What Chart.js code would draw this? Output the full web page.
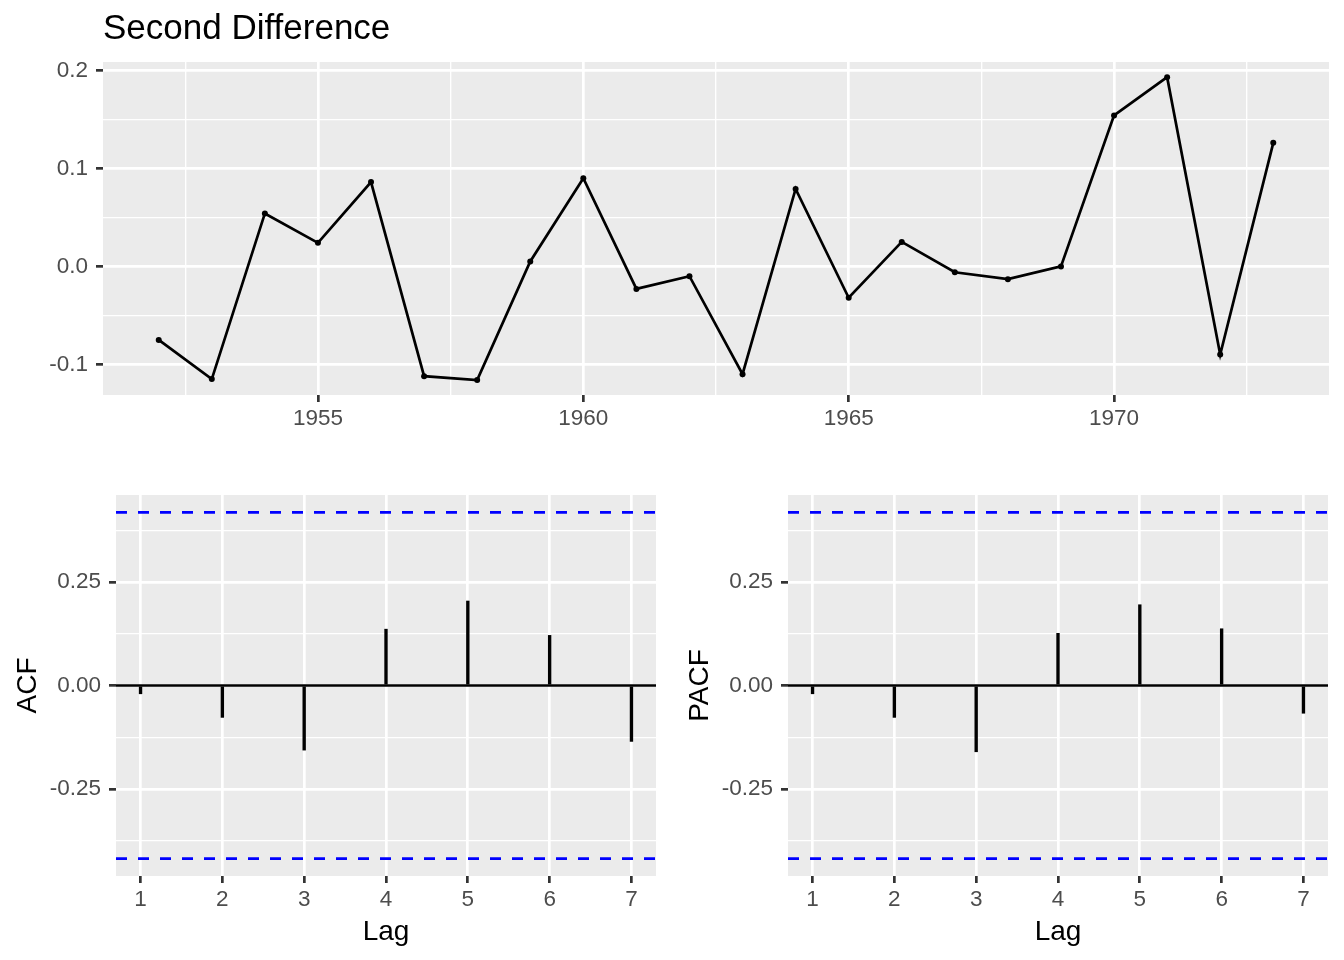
<!DOCTYPE html>
<html>
<head>
<meta charset="utf-8">
<title>Second Difference</title>
<script src="https://cdn.jsdelivr.net/npm/chart.js@4.4.1/dist/chart.umd.min.js"></script>
<style>
    html, body { margin: 0; padding: 0; background: #ffffff; }
    #wrap { position: relative; width: 1344px; height: 960px; }
    canvas { position: absolute; }
</style>
</head>
<body>
<div id="wrap">
    <canvas id="diffChart" width="1344" height="450" style="left:0;top:0"></canvas>
    <canvas id="acfChart" width="672" height="510" style="left:0;top:450px"></canvas>
    <canvas id="pacfChart" width="672" height="510" style="left:672px;top:450px"></canvas>
</div>
<script>
// 데이터
const years = [1952, 1953, 1954, 1955, 1956, 1957, 1958, 1959, 1960, 1961, 1962,
    1963, 1964, 1965, 1966, 1967, 1968, 1969, 1970, 1971, 1972, 1973];
const secondDiff = [-0.075, -0.115, 0.054, 0.024, 0.086, -0.112, -0.116, 0.005, 0.090, -0.023, -0.010,
    -0.110, 0.079, -0.032, 0.025, -0.006, -0.013, 0.000, 0.154, 0.193, -0.090, 0.126];

const lags = [1, 2, 3, 4, 5, 6, 7];
const acfValues = [-0.020, -0.077, -0.156, 0.136, 0.204, 0.121, -0.135];
const pacfValues = [-0.020, -0.077, -0.160, 0.126, 0.195, 0.137, -0.067];
const ciBound = 0.418;

// 축 눈금
const yearTicks = [1955, 1960, 1965, 1970];
const yearMinorTicks = [1952.5, 1957.5, 1962.5, 1967.5, 1972.5];
const diffTicks = [-0.1, 0.0, 0.1, 0.2];
const diffMinorTicks = [-0.05, 0.05, 0.15];
const corrTicks = [-0.25, 0.00, 0.25];
const corrMinorTicks = [-0.375, -0.125, 0.125, 0.375];

// 축 범위
const yearRange = [1950.95, 1974.05];
const diffRange = [-0.1312, 0.2085];
const lagRange = [0.7, 7.3];
const corrRange = [-0.46, 0.46];

const PANEL_BG = '#EBEBEB';
const MAJOR_W = 2.7;
const MINOR_W = 1.35;

Chart.defaults.font.family = "'Liberation Sans', Arial, Helvetica, sans-serif";
Chart.defaults.animation = false;

// 회색 패널 배경
const panelBg = {
    id: 'panelBg',
    beforeDraw(chart) {
        const { ctx, chartArea: a } = chart;
        ctx.save();
        ctx.fillStyle = PANEL_BG;
        ctx.fillRect(a.left, a.top, a.right - a.left, a.bottom - a.top);
        ctx.restore();
    }
};

// 제목
const plotTitle = {
    id: 'plotTitle',
    afterDraw(chart, args, opts) {
        if (!opts.text) return;
        const ctx = chart.ctx;
        ctx.save();
        ctx.font = "35px 'Liberation Sans', Arial, sans-serif";
        ctx.fillStyle = '#000000';
        ctx.textBaseline = 'alphabetic';
        ctx.fillText(opts.text, chart.chartArea.left, 39);
        ctx.restore();
    }
};

// ggplot 스타일 축 (major + minor grid)
function ggAxis(major, minor, range, fmt, size, extra) {
    const isMajor = v => major.some(m => Math.abs(m - v) < 1e-9);
    return Object.assign({
        type: 'linear',
        min: range[0],
        max: range[1],
        offset: false,
        afterBuildTicks: scale => {
            scale.ticks = major.concat(minor).sort((a, b) => a - b).map(v => ({ value: v }));
        },
        afterFit: scale => {
            if (scale.isHorizontal()) scale.height = size;
            else scale.width = size;
        },
        grid: {
            offset: false,
            color: '#FFFFFF',
            lineWidth: c => isMajor(c.tick.value) ? MAJOR_W : MINOR_W,
            tickLength: 7,
            tickWidth: c => isMajor(c.tick.value) ? MAJOR_W : 0,
            tickColor: c => isMajor(c.tick.value) ? '#333333' : 'rgba(0,0,0,0)'
        },
        border: { display: false },
        ticks: {
            autoSkip: false,
            maxRotation: 0,
            minRotation: 0,
            color: '#4D4D4D',
            font: { size: 22.5 },
            padding: 3,
            callback: v => isMajor(v) ? fmt(v) : ''
        }
    }, extra || {});
}

function hLine(y, color, dash) {
    return {
        type: 'line',
        data: [{ x: lagRange[0], y: y }, { x: lagRange[1], y: y }],
        borderColor: color,
        borderWidth: MAJOR_W,
        borderDash: dash,
        pointRadius: 0,
        fill: false
    };
}

// 위쪽: 2차 차분 시계열
function createDiffChart() {
    const ctx = document.getElementById('diffChart').getContext('2d');
    new Chart(ctx, {
        type: 'line',
        data: {
            datasets: [{
                data: years.map((yr, i) => ({ x: yr, y: secondDiff[i] })),
                borderColor: '#000000',
                borderWidth: MAJOR_W,
                pointRadius: 3,
                pointBackgroundColor: '#000000',
                pointBorderWidth: 0,
                tension: 0,
                fill: false
            }]
        },
        options: {
            responsive: false,
            devicePixelRatio: 1,
            events: [],
            layout: { padding: { left: 0, top: 62, right: 15, bottom: 0 } },
            plugins: {
                legend: { display: false },
                tooltip: { enabled: false },
                plotTitle: { text: 'Second Difference' }
            },
            scales: {
                x: ggAxis(yearTicks, yearMinorTicks, yearRange, v => String(v), 55, { position: 'bottom' }),
                y: ggAxis(diffTicks, diffMinorTicks, diffRange, v => v.toFixed(1), 103, {
                    position: 'left',
                    ticks: {
                        autoSkip: false, color: '#4D4D4D', font: { size: 22.5 }, padding: 8,
                        callback: v => diffTicks.some(m => Math.abs(m - v) < 1e-9) ? v.toFixed(1) : ''
                    }
                })
            }
        },
        plugins: [panelBg, plotTitle]
    });
}

// 아래쪽: ACF / PACF
function createCorrChart(id, values, label) {
    const ctx = document.getElementById(id).getContext('2d');
    new Chart(ctx, {
        type: 'bar',
        data: {
            datasets: [
                hLine(ciBound, '#0000FF', [11, 11]),
                hLine(-ciBound, '#0000FF', [11, 11]),
                hLine(0, '#000000', []),
                {
                    type: 'bar',
                    data: lags.map((l, i) => ({ x: l, y: values[i] })),
                    backgroundColor: '#000000',
                    borderWidth: 0,
                    barThickness: MAJOR_W
                }
            ]
        },
        options: {
            responsive: false,
            devicePixelRatio: 1,
            events: [],
            layout: { padding: { left: 0, top: 45, right: 16, bottom: 0 } },
            plugins: {
                legend: { display: false },
                tooltip: { enabled: false }
            },
            scales: {
                x: ggAxis(lags, [], lagRange, v => String(v), 84, {
                    position: 'bottom',
                    title: {
                        display: true, text: 'Lag', color: '#000000',
                        font: { size: 28 }, padding: { top: 0, bottom: 11 }
                    }
                }),
                y: ggAxis(corrTicks, corrMinorTicks, corrRange, v => v.toFixed(2), 116, {
                    position: 'left',
                    ticks: {
                        autoSkip: false, color: '#4D4D4D', font: { size: 22.5 }, padding: 8,
                        callback: v => corrTicks.some(m => Math.abs(m - v) < 1e-9) ? v.toFixed(2) : ''
                    },
                    title: {
                        display: true, text: label, color: '#000000',
                        font: { size: 28 }, padding: { top: 11.5, bottom: 0 }
                    }
                })
            }
        },
        plugins: [panelBg]
    });
}

createDiffChart();
createCorrChart('acfChart', acfValues, 'ACF');
createCorrChart('pacfChart', pacfValues, 'PACF');
</script>
</body>
</html>
